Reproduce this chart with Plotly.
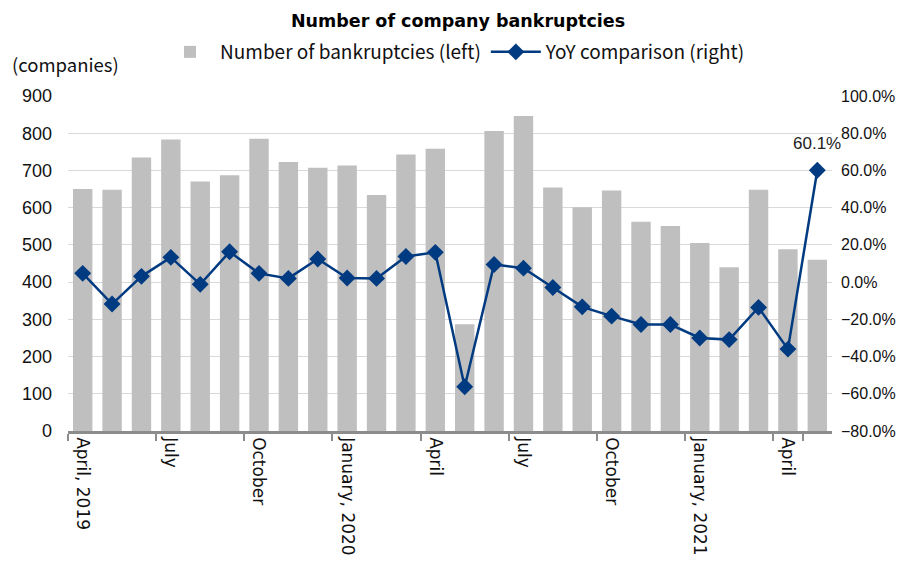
import plotly.graph_objects as go

months = ["April, 2019", "May 2019", "June 2019", "July", "Aug 2019", "Sep 2019",
          "October", "Nov 2019", "Dec 2019", "January, 2020", "Feb 2020", "Mar 2020",
          "April", "May 2020", "June 2020", "July ", "Aug 2020", "Sep 2020",
          "October ", "Nov 2020", "Dec 2020", "January, 2021", "Feb 2021", "Mar 2021",
          "April ", "May 2021"]
bankruptcies = [650, 648, 735, 783, 670, 687, 785, 723, 707, 713, 634, 743, 758,
                287, 806, 846, 654, 601, 646, 562, 551, 505, 440, 648, 488, 460]
yoy = [4.7, -11.8, 3.1, 13.3, -1.2, 16.3, 4.7, 2.0, 12.4, 2.2, 2.0, 13.8, 16.0,
       -56.2, 9.5, 7.5, -2.9, -13.3, -18.3, -22.8, -22.8, -30.0, -30.9, -13.6, -36.0, 60.1]
tick_labels = ["April, 2019", "July", "October", "January, 2020", "April",
               "July", "October", "January, 2021", "April"]
tick_idx = list(range(0, 26, 3))

font_num = "Liberation Sans, Arial, sans-serif"
font_jp = "Noto Sans CJK JP, sans-serif"
blue = "#003a80"

W, H = 901, 560

fig = go.Figure()
fig.add_trace(go.Bar(x=months, y=bankruptcies, name="Number of bankruptcies (left)",
                     marker=dict(color="#bfbfbf", line=dict(width=0)), yaxis="y"))
fig.add_trace(go.Scatter(x=months, y=yoy, name="YoY comparison (right)", yaxis="y2",
                         mode="lines+markers", cliponaxis=False,
                         line=dict(color=blue, width=2.5),
                         marker=dict(symbol="diamond", size=13, color=blue)))

fig.update_layout(
    width=W, height=H,
    margin=dict(l=60, r=77, t=88, b=137, autoexpand=False),
    paper_bgcolor="white", plot_bgcolor="white",
    bargap=0.34,
    font=dict(family=font_num, size=16, color="#111"),
    title=dict(text="<b>Number of company bankruptcies</b>", x=(458 - 8) / W, xanchor="center",
               yref="container", y=1 - 13 / H, yanchor="middle",
               font=dict(size=17.5, color="#000", family="DejaVu Sans, sans-serif")),
    legend=dict(orientation="h", x=(465 - 8) / W, xanchor="center", yref="container",
                y=1 - 44 / H, yanchor="middle",
                font=dict(size=19, family=font_jp), itemwidth=50, bgcolor="rgba(0,0,0,0)"),
    xaxis=dict(type="category", tickmode="array", automargin=False, range=[-0.5, 25.5],
               tickvals=[months[i] for i in tick_idx], ticktext=tick_labels,
               tickson="boundaries", ticks="outside", ticklen=7, tickwidth=2,
               tickcolor="#8c8c8c", tickangle=90, showline=True, linecolor="#8c8c8c",
               linewidth=2.5, showgrid=False,
               tickfont=dict(size=17, color="#111", family="DejaVu Sans, sans-serif")),
    yaxis=dict(range=[0, 900], dtick=100, showgrid=True, gridcolor="#d9d9d9",
               gridwidth=1.2, zeroline=False, ticks="", automargin=False,
               ticklabelstandoff=15, tickfont=dict(size=18)),
    yaxis2=dict(range=[-80, 100], dtick=20, overlaying="y", side="right",
                showgrid=False, zeroline=False, ticksuffix="%", tickformat=".1f",
                automargin=False, ticklabelstandoff=8, tickfont=dict(size=16)),
    annotations=[
        dict(text="(companies)", xref="paper", yref="paper", x=-0.0759, y=1.095,
             xanchor="left", yanchor="middle", showarrow=False,
             font=dict(size=18.5, family=font_jp)),
        dict(text=f"{yoy[-1]:.1f}%", x=months[-1], y=yoy[-1], xref="x", yref="y2",
             yshift=27, showarrow=False, xanchor="center", yanchor="middle",
             font=dict(size=17, color="#222")),
    ],
)

fig.write_html("out.html")
